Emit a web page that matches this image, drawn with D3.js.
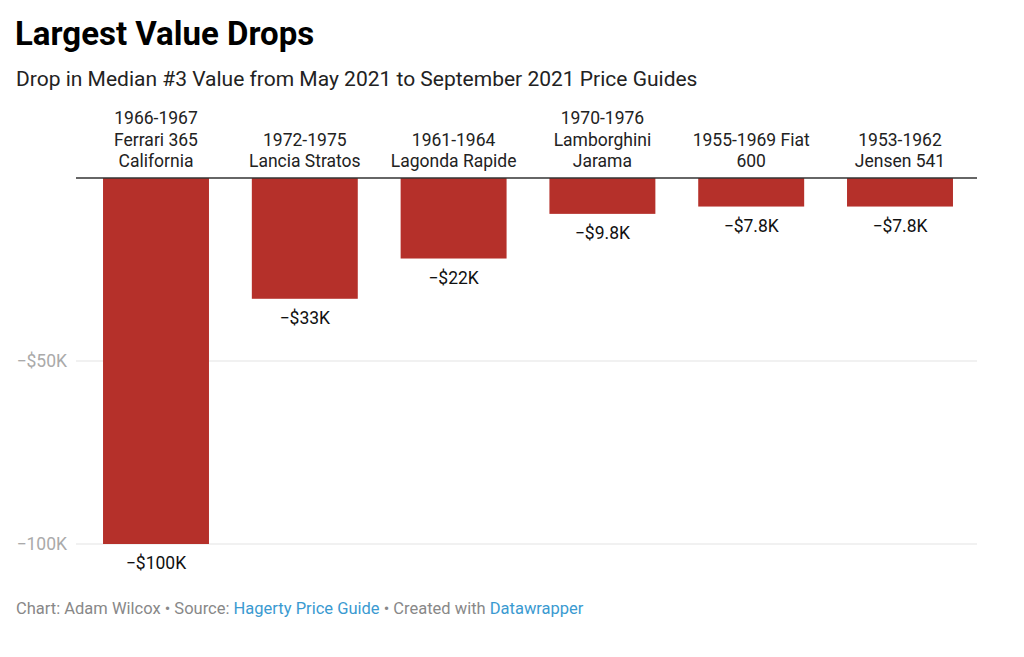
<!DOCTYPE html>
<html><head><meta charset="utf-8">
<script src="https://cdn.jsdelivr.net/npm/d3@7"></script>
<style>body{margin:0;background:#fff;font-family:Roboto,sans-serif}</style>
</head><body><svg id="c" width="1024" height="657"></svg>
<script>
const categories = [["1966-1967","Ferrari 365","California"],["1972-1975","Lancia Stratos"],["1961-1964","Lagonda Rapide"],["1970-1976","Lamborghini","Jarama"],["1955-1969 Fiat","600"],["1953-1962","Jensen 541"]];
const values = [-100000,-33000,-22000,-9800,-7800,-7800];
const valueLabels = ["−$100K","−$33K","−$22K","−$9.8K","−$7.8K","−$7.8K"];
const tickValues = [-50000,-100000];
const tickLabels = ["−$50K","−100K"];

const svg = d3.select("#c");
svg.append("text").attr("x",15).attr("y",45).attr("font-size",33).attr("font-weight",700).attr("fill","#000").text("Largest Value Drops");
svg.append("text").attr("x",16).attr("y",86).attr("font-size",21).attr("fill","#222").text("Drop in Median #3 Value from May 2021 to September 2021 Price Guides");

const idx = d3.range(values.length);
const x = d3.scaleBand().domain(idx).range([81.6,974.4]).paddingInner(0.288).paddingOuter(0.144);
const y = d3.scaleLinear().domain([0,-100000]).range([178,544]);

const g = svg.append("g");
tickValues.forEach((t,i)=>{
  g.append("line").attr("x1",76).attr("x2",977).attr("y1",y(t)).attr("y2",y(t)).attr("stroke","#e3e3e3");
  g.append("text").attr("x",67).attr("y",y(t)).attr("dy","0.35em").attr("text-anchor","end").attr("font-size",17.5).attr("fill","#aaa").text(tickLabels[i]);
});
g.selectAll("rect.bar").data(idx).join("rect").attr("class","bar")
  .attr("x",i=>x(i)).attr("width",x.bandwidth())
  .attr("y",y(0)).attr("height",i=>y(values[i])-y(0)).attr("fill","#b5302a");
g.append("line").attr("x1",76).attr("x2",977).attr("y1",y(0)).attr("y2",y(0)).attr("stroke","#333").attr("stroke-width",1.3);
g.selectAll("text.val").data(idx).join("text").attr("class","val")
  .attr("x",i=>x(i)+x.bandwidth()/2).attr("y",i=>y(values[i])+19).attr("dy","0.35em")
  .attr("text-anchor","middle").attr("font-size",17.5).attr("fill","#111").text(i=>valueLabels[i]);
idx.forEach(i=>{
  const lines = categories[i];
  lines.forEach((l,j)=>{
    g.append("text").attr("x",x(i)+x.bandwidth()/2).attr("y",167-(lines.length-1-j)*21.5)
      .attr("text-anchor","middle").attr("font-size",17.5).attr("fill","#222").text(l);
  });
});
const f = svg.append("text").attr("x",16).attr("y",614).attr("font-size",16.5).attr("fill","#888");
f.append("tspan").text("Chart: Adam Wilcox • Source: ");
f.append("tspan").attr("fill","#3a9ad1").text("Hagerty Price Guide");
f.append("tspan").text(" • Created with ");
f.append("tspan").attr("fill","#3a9ad1").text("Datawrapper");
</script></body></html>
